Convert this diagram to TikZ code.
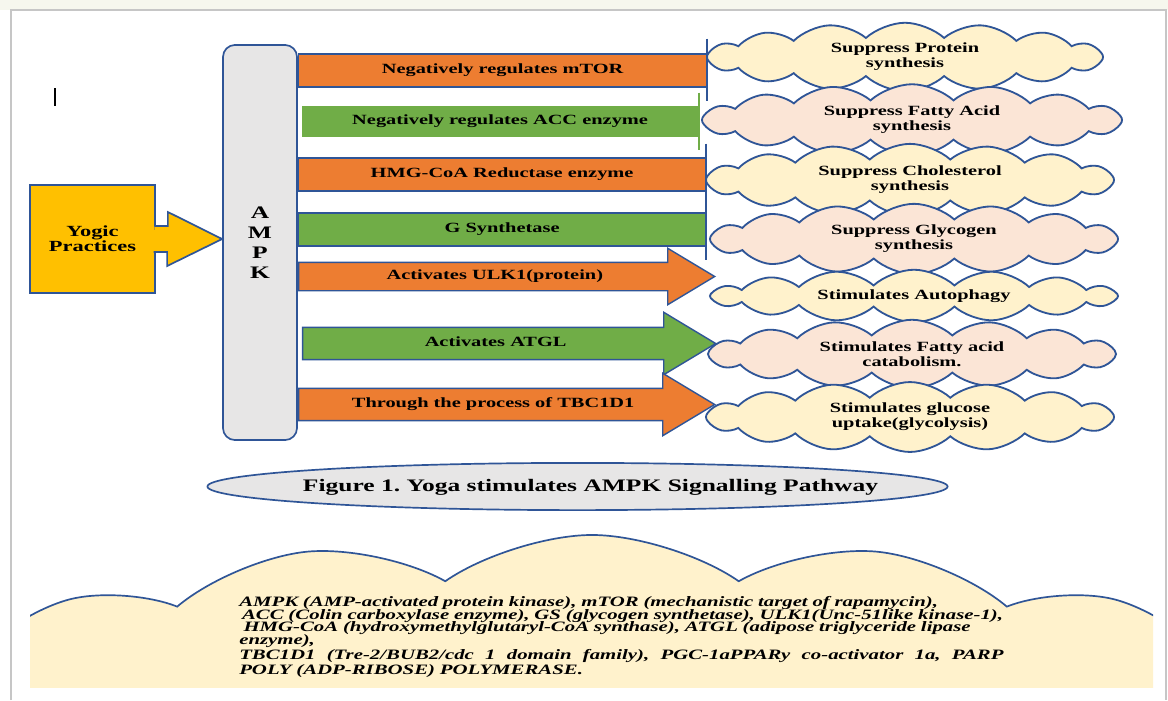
\documentclass[tikz,border=0pt]{standalone}
\usepackage{fontspec}
\setmainfont{Liberation Serif}[FakeStretch=1.45]
\usepackage{tikz}
\usetikzlibrary{shapes.geometric,shapes.symbols,shapes.arrows,calc,positioning}
\definecolor{ampkblue}{RGB}{47,85,151}
\definecolor{ampkorange}{RGB}{237,125,49}
\definecolor{ampkgreen}{RGB}{112,173,71}
\definecolor{ampkgray}{RGB}{231,230,230}
\definecolor{yogicgold}{RGB}{255,192,0}
\definecolor{creamfill}{RGB}{255,242,204}
\definecolor{pinkfill}{RGB}{251,229,214}
\definecolor{pagetint}{RGB}{246,247,238}

\begin{document}
\begin{tikzpicture}[x=0.025cm,y=-0.025cm,
  barbox/.style={draw=ampkblue, line width=1pt, minimum height=0.825cm, anchor=west,
    font=\fontsize{10}{12}\selectfont\bfseries},
  blockarrow/.style={single arrow, draw=ampkblue, line width=1pt, single arrow tip angle=62,
    minimum height=10.4cm, text height=7pt, text depth=2.2pt, anchor=tail,
    font=\fontsize{10}{12}\selectfont\bfseries},
  tbar/.style={draw=ampkblue, line width=1.3pt},
  effect/.style={cloud, cloud puffs=16, cloud puff arc=85, cloud ignores aspect,
    draw=ampkblue, line width=1.3pt, minimum width=10.2cm, minimum height=1.45cm,
    align=center, font=\fontsize{10}{10.7}\selectfont\bfseries}]
\useasboundingbox (0,0) rectangle (1168,700);
\fill[white] (0,0) rectangle (1168,700);
\fill[pagetint] (0,0) rectangle (1168,10);
\draw[gray!45, line width=1pt] (11,700) -- (11,10) -- (1166,10) -- (1166,700);
\draw[line width=1pt] (55,88) -- (55,106);

\node[draw=ampkblue, fill=ampkgray, line width=1.2pt, rounded corners=0.3cm,
  minimum width=1.85cm, minimum height=9.875cm, align=center,
  font=\fontsize{12.5}{14.2}\selectfont\bfseries] (ampk) at (260,242.5) {A\\M\\P\\K};

\node[draw=ampkblue, fill=yogicgold, line width=1.2pt, minimum width=3.125cm,
  minimum height=2.7cm, align=center, font=\fontsize{11}{10.7}\selectfont\bfseries]
  (yogic) at (92.5,239) {Yogic\\Practices};
\coordinate (yogictip) at (ampk.west |- yogic.east);
\filldraw[draw=ampkblue, fill=yogicgold, line width=1.2pt, line join=miter]
  ($(yogic.east)+(-1.5,-13)$) -- ++(13.5,0) -- ++(0,-14) -- (yogictip)
  -- ++(-55,27) -- ++(0,-14) -- ++(-13.5,0);

\node[barbox, fill=ampkorange, minimum width=10.2cm] (mtor) at (ampk.east |- 0,70.5)
  {Negatively regulates mTOR};
\node[barbox, fill=ampkgreen, draw=none, minimum width=9.925cm, minimum height=0.775cm]
  (acc) at ($(ampk.east |- 0,121.5)+(3,0)$) {Negatively regulates ACC enzyme};
\node[barbox, fill=ampkorange, minimum width=10.175cm] (hmg) at (ampk.east |- 0,174.5)
  {HMG-CoA Reductase enzyme};
\node[barbox, fill=ampkgreen, minimum width=10.175cm] (gsyn) at (ampk.east |- 0,229.5)
  {G Synthetase};
\draw[tbar] ($(mtor.east)+(0,-32)$) -- ($(mtor.east)+(0,30)$);
\draw[tbar, draw=ampkgreen] ($(acc.east)+(0,-29)$) -- ($(acc.east)+(0,28.5)$);
\draw[tbar] ($(hmg.east)+(0,-31)$) -- ($(gsyn.east)+(0,30.5)$);

\node[blockarrow, single arrow head extend=0.35cm, inner ysep=5pt, fill=ampkorange]
  (ulk) at (ampk.east |- 0,276.5) {Activates ULK1(protein)};
\node[blockarrow, single arrow head extend=0.375cm, inner ysep=6.4pt, fill=ampkgreen,
  minimum height=10.325cm] (atgl) at ($(ampk.east |- 0,343.5)+(4,0)$) {Activates ATGL};
\node[blockarrow, single arrow head extend=0.375cm, inner ysep=6.4pt, fill=ampkorange]
  (tbc) at (ampk.east |- 0,404.5) {Through the process of TBC1D1};

\node[effect, fill=creamfill, minimum width=9.9cm] (protein) at (905,57)
  {Suppress Protein\\synthesis};
\node[effect, fill=pinkfill, minimum width=10.5cm] (fatty) at (912,120)
  {Suppress Fatty Acid\\synthesis};
\node[effect, fill=creamfill] (cholesterol) at (910,180)
  {Suppress Cholesterol\\synthesis};
\node[effect, fill=pinkfill] (glycogen) at (914,239)
  {Suppress Glycogen\\synthesis};
\node[effect, fill=creamfill, minimum height=1.3cm] (autophagy) at (914,296)
  {Stimulates Autophagy};
\node[effect, fill=pinkfill] (catabolism) at (912,354)
  {Stimulates Fatty acid\\catabolism.};
\node[effect, fill=creamfill, minimum height=1.55cm] (glucose) at (910,417)
  {Stimulates glucose\\uptake(glycolysis)};

\node[ellipse, draw=ampkblue, fill=ampkgray, line width=1.2pt, minimum width=18.5cm,
  minimum height=1.18cm] (caption) at (577.5,486.5) {};
\node[font=\fontsize{12.5}{14}\selectfont\bfseries] (captiontext) at ($(caption)+(13,1)$)
  {Figure 1.\ Yoga stimulates AMPK Signalling Pathway};

\begin{scope}
\clip (30,480) rectangle (1153,687);
\node[cloud, cloud puffs=15, cloud puff arc=70, cloud ignores aspect, draw=ampkblue,
  line width=1.2pt, fill=creamfill, minimum width=35cm, minimum height=9.65cm]
  (notes) at (592,728) {};
\end{scope}
\node[anchor=north west, text width=19.1cm, align=left, inner sep=0,
  font=\fontsize{10.2}{9.1}\selectfont\bfseries\itshape]
  (abbrev) at (239,596)
  {\lineskiplimit=-20pt\relax
  AMPK (AMP-activated protein kinase), mTOR (mechanistic target of rapamycin),\\
  \hspace*{2pt}ACC (Colin carboxylase enzyme), GS (glycogen synthetase), ULK1(Unc-51like kinase-1),\\
  \hspace*{3pt}HMG-CoA (hydroxymethylglutaryl-CoA synthase), ATGL (adipose triglyceride lipase\\
  enzyme),\\[1.5pt]
  \makebox[19.1cm][l]{TBC1D1 \hfill (Tre-2/BUB2/cdc \hfill 1 \hfill domain \hfill family), \hfill
  PGC-1aPPARy \hfill co-activator \hfill 1a, \hfill PARP}\\
  POLY (ADP-RIBOSE) POLYMERASE.};
\end{tikzpicture}
\end{document}
